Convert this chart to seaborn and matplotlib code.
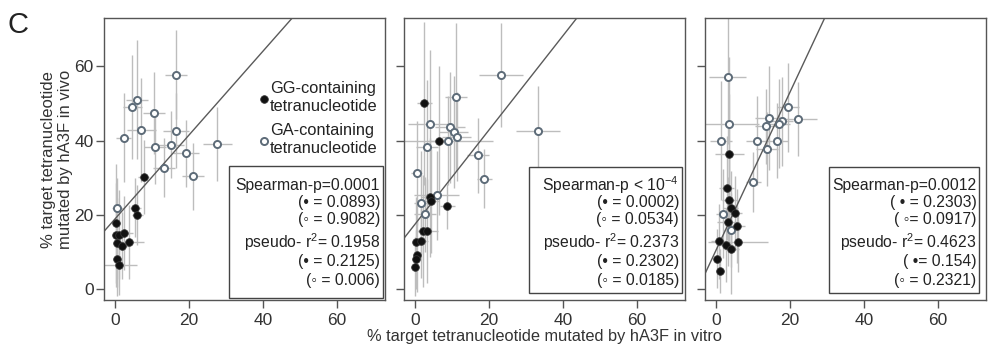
import numpy as np
import pandas as pd
import matplotlib
matplotlib.use("Agg")
import matplotlib.pyplot as plt
from matplotlib.patches import Rectangle
import seaborn as sns

# ---------------- data ----------------
# Panel 1
p1_gg_x = [7.7, 5.5, 6.0, 0.3, 0.3, 1.2, 2.4, 0.4, 1.9, 3.9, 0.5, 1.0]
p1_gg_y = [30.2, 21.9, 19.9, 17.7, 14.5, 14.6, 15.0, 12.5, 11.7, 12.7, 8.1, 6.4]
p1_gg_xerr = [1.5, 1.5, 1.5, 1.0, 1.0, 1.5, 2.5, 1.0, 2.0, 4.0, 1.0, 5.0]
p1_gg_yerr = [10, 8, 8, 16, 14, 12, 10, 12, 9, 10, 10, 8]
p1_ga_x = [16.4, 5.9, 4.7, 10.6, 2.3, 7.1, 16.5, 10.8, 15.1, 19.3, 27.7, 13.3, 21.0, 0.6]
p1_ga_y = [57.7, 51.0, 49.1, 47.5, 40.8, 42.8, 42.7, 38.2, 38.9, 36.6, 39.0, 32.7, 30.4, 21.9]
p1_ga_xerr = [3.0, 3.0, 2.5, 3.0, 2.0, 4.0, 3.5, 3.0, 3.5, 3.5, 4.0, 3.0, 3.0, 1.5]
p1_ga_yerr = [12, 16, 14, 11, 12, 14, 10, 10, 9, 9, 10, 8, 9, 8]

# Panel 2
p2_gg_x = [2.5, 6.5, 4.1, 4.4, 8.7, 2.2, 3.2, 0.3, 1.5, 0.5, 0.2, 0.0]
p2_gg_y = [50.0, 40.0, 24.7, 23.7, 22.3, 15.6, 15.7, 12.7, 12.9, 9.1, 8.0, 6.0]
p2_gg_xerr = [2.0, 3.0, 2.5, 2.0, 2.0, 2.0, 3.0, 1.0, 2.0, 1.0, 1.0, 1.0]
p2_gg_yerr = [22, 20, 16, 14, 6, 15, 14, 12, 10, 10, 8, 8]
p2_ga_x = [23.3, 11.0, 4.1, 9.5, 10.4, 11.2, 9.0, 3.1, 33.2, 16.9, 18.7, 0.4, 5.8, 1.6, 2.6]
p2_ga_y = [57.7, 51.7, 44.4, 43.6, 42.3, 41.1, 39.9, 38.4, 42.7, 36.0, 29.7, 31.3, 25.2, 23.3, 20.1]
p2_ga_xerr = [6, 3, 6, 4, 4, 4, 12, 3, 6, 3, 2, 1.5, 6, 2, 3]
p2_ga_yerr = [14, 20, 20, 15, 15, 12, 12, 18, 12, 10, 8, 14, 12, 14, 10]

# Panel 3
p3_gg_x = [3.6, 2.9, 3.6, 3.9, 5.0, 3.2, 5.7, 0.7, 2.6, 4.1, 5.9, 0.3, 1.1]
p3_gg_y = [36.5, 27.2, 23.9, 21.9, 20.4, 18.1, 17.0, 12.8, 11.9, 10.7, 12.6, 8.2, 4.8]
p3_gg_xerr = [4, 2, 2, 2, 2, 3, 2, 2, 2, 2, 8, 1, 1]
p3_gg_yerr = [16, 14, 12, 10, 10, 12, 10, 10, 10, 12, 8, 8, 6]
p3_ga_x = [3.2, 19.5, 14.4, 22.2, 17.9, 17.0, 3.5, 13.6, 1.4, 11.1, 16.5, 13.8, 10.1, 1.9, 4.1]
p3_ga_y = [57.2, 49.0, 46.1, 45.8, 45.2, 44.5, 44.5, 43.8, 40.0, 40.0, 40.0, 37.7, 28.8, 20.3, 15.9]
p3_ga_xerr = [5, 3, 4, 5, 3, 3, 8, 3, 3, 3, 3, 3, 2, 2, 2]
p3_ga_yerr = [18, 12, 14, 10, 12, 12, 18, 10, 16, 12, 10, 10, 8, 12, 10]

# Fitted lines
line_intercepts = [18.9, 17.5, 10.5]
line_slopes = [1.13, 1.27, 2.13]

# Annotation texts
spearman_all = ["Spearman-p=0.0001", "Spearman-p < 10$\\mathregular{^{-4}}$", "Spearman-p=0.0012"]
spearman_gg = ["(\u2022 = 0.0893)", "(\u2022 = 0.0002)", "( \u2022 = 0.2303)"]
spearman_ga = ["(\u25e6 = 0.9082)", "(\u25e6 = 0.0534)", "( \u25e6= 0.0917)"]
pseudo_all = ["pseudo- r$\\mathregular{^2}$= 0.1958", "pseudo- r$\\mathregular{^2}$= 0.2373",
              "pseudo- r$\\mathregular{^2}$= 0.4623"]
pseudo_gg = ["(\u2022 = 0.2125)", "(\u2022 = 0.2302)", "( \u2022= 0.154)"]
pseudo_ga = ["(\u25e6 = 0.006)", "(\u25e6 = 0.0185)", "(\u25e6 = 0.2321)"]

legend_labels = ["GG-containing\ntetranucleotide", "GA-containing\ntetranucleotide"]
tick_values = [0, 20, 40, 60]
xlabel_text = "% target tetranucleotide mutated by hA3F in vitro"
ylabel_text = "% target tetranucleotide\nmutated by hA3F in vivo"

panels = [
    (p1_gg_x, p1_gg_y, p1_gg_xerr, p1_gg_yerr, p1_ga_x, p1_ga_y, p1_ga_xerr, p1_ga_yerr),
    (p2_gg_x, p2_gg_y, p2_gg_xerr, p2_gg_yerr, p2_ga_x, p2_ga_y, p2_ga_xerr, p2_ga_yerr),
    (p3_gg_x, p3_gg_y, p3_gg_xerr, p3_gg_yerr, p3_ga_x, p3_ga_y, p3_ga_xerr, p3_ga_yerr),
]

# ---------------- style ----------------
sns.set_style("white")
plt.rcParams["font.family"] = ["Liberation Sans", "DejaVu Sans"]
plt.rcParams["mathtext.fontset"] = "custom"
plt.rcParams["mathtext.rm"] = "Liberation Sans"
plt.rcParams["mathtext.it"] = "Liberation Sans:italic"
plt.rcParams["text.color"] = "#222222"

FRAME = "#555555"
ERR = "#bdbdbd"
OPEN_EDGE = "#5d6b78"

fig = plt.figure(figsize=(9.92, 3.56), dpi=100)
lefts = [0.1048, 0.4073, 0.7107]
axes = [fig.add_axes([l, 0.157, 0.2833, 0.792]) for l in lefts]

box_geom = [(0.445, 0.007, 0.548, 0.468), (0.444, 0.026, 0.545, 0.446), (0.440, 0.026, 0.536, 0.446)]
text_right = [0.982, 0.978, 0.966]

for i, (ax, pdata) in enumerate(zip(axes, panels)):
    gx, gy, gxe, gye, ax_, ay, axe, aye = pdata
    df_gg = pd.DataFrame({"x": gx, "y": gy})
    df_ga = pd.DataFrame({"x": ax_, "y": ay})

    ax.errorbar(gx, gy, xerr=gxe, yerr=gye, fmt="none", ecolor=ERR, elinewidth=1.0, capsize=0, zorder=1)
    ax.errorbar(ax_, ay, xerr=axe, yerr=aye, fmt="none", ecolor=ERR, elinewidth=1.0, capsize=0, zorder=1)

    ax.axline((0, line_intercepts[i]), slope=line_slopes[i], color="#5a5a5a", lw=1.0, zorder=2)

    sns.scatterplot(data=df_ga, x="x", y="y", ax=ax, color="white", edgecolor=OPEN_EDGE,
                    linewidth=1.4, s=26, zorder=3, label=legend_labels[1] if i == 0 else None)
    sns.scatterplot(data=df_gg, x="x", y="y", ax=ax, color="#111111", edgecolor="#333333",
                    linewidth=0.6, s=30, zorder=4, label=legend_labels[0] if i == 0 else None)

    ax.set_xlim(-3, 73)
    ax.set_ylim(-3, 73)
    ax.set_xticks(tick_values)
    ax.set_yticks(tick_values)
    ax.set_xlabel("")
    ax.set_ylabel("")
    for sp in ax.spines.values():
        sp.set_color(FRAME)
        sp.set_linewidth(1.0)
    ax.tick_params(axis="both", direction="out", length=6, width=1, color=FRAME,
                   labelsize=12.5, labelcolor="#333333", bottom=True, left=True)
    ax.tick_params(axis="x", pad=3)
    ax.tick_params(axis="y", pad=1.5)
    if i > 0:
        ax.tick_params(axis="y", labelleft=False)

    # stats box
    bx, by, bw, bh = box_geom[i]
    ax.add_patch(Rectangle((bx, by), bw, bh, transform=ax.transAxes, fill=True, facecolor="white",
                           edgecolor="#444444", linewidth=1.0, zorder=5))
    tr = text_right[i]
    lines = [(spearman_all[i], 0.408), (spearman_gg[i], 0.345), (spearman_ga[i], 0.286),
             (pseudo_all[i], 0.205), (pseudo_gg[i], 0.138), (pseudo_ga[i], 0.071)]
    for txt, yy in lines:
        ax.text(tr, yy, txt, transform=ax.transAxes, ha="right", va="center",
                fontsize=11.3, color="#222222", zorder=6)

    if i == 0:
        leg = ax.legend(loc="upper left", bbox_to_anchor=(0.515, 0.80), frameon=False)
        handles = leg.legend_handles
        leg.remove()
        ax.legend(handles=handles[::-1], labels=legend_labels, loc="upper left",
                  bbox_to_anchor=(0.51, 0.80), frameon=False, fontsize=11.8,
                  handletextpad=-0.2, labelspacing=0.6, borderaxespad=0, handlelength=1.2)
    else:
        if ax.get_legend() is not None:
            ax.get_legend().remove()

axes[0].set_ylabel(ylabel_text, fontsize=12, labelpad=1, color="#333333")
axes[1].set_xlabel(xlabel_text, fontsize=11.8, labelpad=1, color="#333333")
fig.text(0.008, 0.97, "C", fontsize=21, va="top", ha="left", color="#222222")

fig.savefig("out.png", dpi=100)
